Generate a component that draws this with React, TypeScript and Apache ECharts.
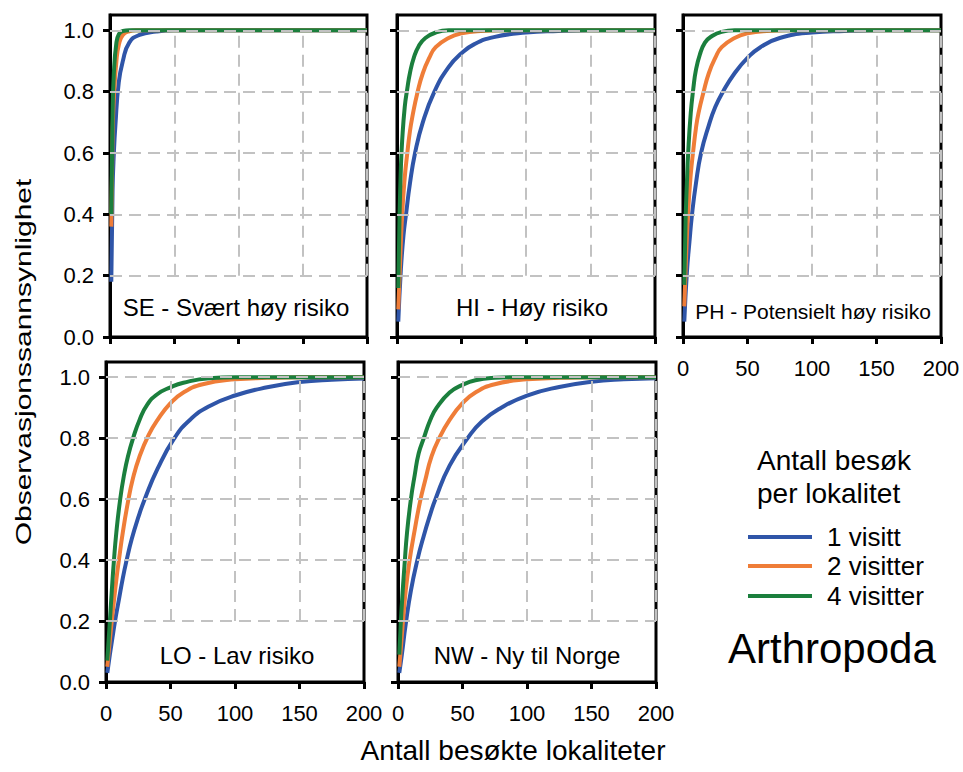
import React, { useEffect, useRef } from 'react';
import * as echarts from 'echarts';

// ---------- data ----------
const X_TICKS = [0, 50, 100, 150, 200];
const Y_TICKS = [0, 0.2, 0.4, 0.6, 0.8, 1.0];
const GRID_X = [50, 100, 150, 200];
const GRID_Y = [0.2, 0.4, 0.6, 0.8, 1.0];
const VISIT_LABELS = ['1 visitt', '2 visitter', '4 visitter'];
const PANEL_LABELS = [
  'SE - Svært høy risiko',
  'HI - Høy risiko',
  'PH - Potensielt høy risiko',
  'LO - Lav risiko',
  'NW - Ny til Norge',
];
const Y_TITLE = 'Observasjonssannsynlighet';
const X_TITLE = 'Antall besøkte lokaliteter';
const LEGEND_TITLE = ['Antall besøk', 'per lokalitet'];
const TAXON = 'Arthropoda';

const SE_1 = [[1, 0.18], [2, 0.48], [3, 0.6], [4.2, 0.69], [6.8, 0.83], [10, 0.9], [15, 0.96], [23, 0.985], [36, 0.996], [50, 1], [200, 1]];
const SE_2 = [[1, 0.36], [2, 0.66], [3, 0.78], [5, 0.9], [7, 0.955], [10, 0.985], [15, 0.997], [20, 1], [200, 1]];
const SE_4 = [[1, 0.4], [2, 0.72], [3, 0.86], [5, 0.96], [7, 0.988], [10, 0.998], [15, 1], [200, 1]];

const HI_1 = [[1, 0.05], [3, 0.22], [5, 0.33], [7, 0.4], [10, 0.5], [14, 0.6], [20, 0.7], [29, 0.8], [40, 0.88], [50, 0.925], [60, 0.955], [75, 0.978], [100, 0.993], [125, 0.998], [150, 1], [200, 1]];
const HI_2 = [[1, 0.09], [2, 0.2], [4, 0.4], [6, 0.52], [8, 0.6], [10, 0.67], [12, 0.72], [16, 0.8], [20, 0.86], [25, 0.91], [30, 0.945], [40, 0.975], [50, 0.99], [65, 0.998], [80, 1], [200, 1]];
const HI_4 = [[1, 0.16], [2, 0.4], [3, 0.55], [4, 0.64], [6, 0.75], [8, 0.81], [10, 0.86], [13, 0.91], [17, 0.95], [22, 0.975], [30, 0.993], [40, 1], [200, 1]];

const PH_1 = [[1, 0.05], [3, 0.21], [5, 0.31], [7, 0.4], [10, 0.5], [14, 0.6], [20, 0.69], [25, 0.75], [31, 0.8], [40, 0.86], [50, 0.91], [60, 0.945], [75, 0.975], [100, 0.993], [125, 0.998], [150, 1], [200, 1]];
const PH_2 = [[1, 0.1], [2, 0.22], [4, 0.41], [6, 0.53], [8, 0.61], [10, 0.68], [12, 0.73], [16, 0.8], [20, 0.86], [25, 0.91], [30, 0.945], [40, 0.975], [50, 0.99], [65, 0.998], [80, 1], [200, 1]];
const PH_4 = [[1, 0.17], [2, 0.38], [3, 0.5], [4, 0.6], [6, 0.73], [8, 0.81], [10, 0.87], [13, 0.92], [17, 0.96], [22, 0.98], [30, 0.995], [40, 1], [200, 1]];

const LO_1 = [[1, 0.03], [3, 0.09], [5, 0.145], [7, 0.2], [10, 0.27], [13, 0.34], [16, 0.4], [20, 0.47], [25, 0.54], [30, 0.6], [40, 0.7], [53, 0.8], [65, 0.86], [80, 0.905], [100, 0.94], [125, 0.967], [150, 0.984], [175, 0.992], [200, 0.996]];
const LO_2 = [[1, 0.05], [2, 0.095], [4, 0.18], [6, 0.26], [8, 0.335], [10, 0.4], [13, 0.49], [17, 0.59], [21, 0.67], [26, 0.74], [33, 0.81], [40, 0.86], [50, 0.915], [60, 0.95], [75, 0.977], [100, 0.993], [125, 0.998], [150, 1], [200, 1]];
const LO_4 = [[1, 0.07], [2, 0.135], [3, 0.2], [4.5, 0.3], [6, 0.39], [8, 0.49], [11, 0.6], [14, 0.68], [17, 0.74], [21, 0.8], [26, 0.86], [32, 0.91], [40, 0.945], [50, 0.967], [60, 0.982], [80, 0.997], [100, 1], [200, 1]];

const NW_1 = [[1, 0.03], [3, 0.09], [6, 0.19], [10, 0.3], [15, 0.4], [20, 0.48], [25, 0.55], [29, 0.6], [40, 0.71], [54, 0.8], [65, 0.855], [80, 0.9], [100, 0.94], [125, 0.968], [150, 0.985], [175, 0.993], [200, 0.997]];
const NW_2 = [[1, 0.05], [2, 0.1], [3.5, 0.18], [6, 0.3], [9, 0.4], [13, 0.5], [17, 0.59], [21, 0.66], [26, 0.74], [32, 0.8], [40, 0.86], [50, 0.915], [60, 0.95], [75, 0.977], [100, 0.993], [125, 0.998], [150, 1], [200, 1]];
const NW_4 = [[1, 0.09], [2, 0.18], [3.5, 0.29], [5, 0.38], [7, 0.49], [10, 0.6], [13, 0.68], [16, 0.75], [20, 0.8], [25, 0.86], [30, 0.9], [40, 0.95], [50, 0.975], [60, 0.99], [75, 0.998], [90, 1], [200, 1]];

const PANEL_DATA = [
  [SE_1, SE_2, SE_4],
  [HI_1, HI_2, HI_4],
  [PH_1, PH_2, PH_4],
  [LO_1, LO_2, LO_4],
  [NW_1, NW_2, NW_4],
];

// ---------- styling / layout ----------
const COLORS = ['#2f55a8', '#ef7d38', '#1b7f3d'];
const FONT = "'Liberation Sans', Arial, Helvetica, sans-serif";

const LAYOUT = [
  { left: 110, top: 15, width: 257, height: 322, xLabels: false, yLabels: true, lx: 236, ly: 307, lfs: 24 },
  { left: 397, top: 15, width: 258, height: 322, xLabels: false, yLabels: false, lx: 532, ly: 307, lfs: 24 },
  { left: 683, top: 15, width: 258, height: 322, xLabels: true, yLabels: false, lx: 813, ly: 311, lfs: 21 },
  { left: 106, top: 362, width: 258, height: 320, xLabels: true, yLabels: true, lx: 237, ly: 655, lfs: 24 },
  { left: 398, top: 362, width: 258, height: 320, xLabels: true, yLabels: false, lx: 527, ly: 655, lfs: 24 },
];

function buildOption() {
  const grid: any[] = [];
  const xAxis: any[] = [];
  const yAxis: any[] = [];
  const series: any[] = [];
  const graphic: any[] = [];

  LAYOUT.forEach((p, i) => {
    grid.push({
      left: p.left,
      top: p.top,
      width: p.width,
      height: p.height,
      show: true,
      borderColor: '#000',
      borderWidth: 3,
      backgroundColor: 'transparent',
      containLabel: false,
    });
    xAxis.push({
      type: 'value',
      gridIndex: i,
      min: X_TICKS[0],
      max: X_TICKS[X_TICKS.length - 1],
      interval: 50,
      axisLine: { show: true, onZero: false, lineStyle: { color: '#000', width: 3 } },
      axisTick: { show: true, inside: false, length: 7, customValues: X_TICKS, lineStyle: { color: '#000', width: 3 } },
      axisLabel: {
        show: p.xLabels,
        customValues: X_TICKS,
        fontSize: 22,
        color: '#000',
        fontFamily: FONT,
        margin: 20,
        showMinLabel: true,
        showMaxLabel: true,
      },
      splitLine: { show: false },
    });
    yAxis.push({
      type: 'value',
      gridIndex: i,
      min: 0,
      max: 1.05,
      interval: 0.2,
      axisLine: { show: true, onZero: false, lineStyle: { color: '#000', width: 3 } },
      axisTick: { show: true, inside: false, length: 7, customValues: Y_TICKS, lineStyle: { color: '#000', width: 3 } },
      axisLabel: {
        show: p.yLabels,
        customValues: Y_TICKS,
        fontSize: 22,
        color: '#000',
        fontFamily: FONT,
        margin: 16,
        formatter: (v: number) => (v > 1.01 ? '' : v.toFixed(1)),
      },
      splitLine: { show: false },
    });
    // dashed grid lines
    series.push({
      type: 'line',
      xAxisIndex: i,
      yAxisIndex: i,
      data: [],
      silent: true,
      z: 1,
      markLine: {
        silent: true,
        animation: false,
        symbol: ['none', 'none'],
        label: { show: false },
        lineStyle: { color: '#c2c2c2', width: 2, type: [12, 7] },
        data: [
          ...GRID_Y.map((y) => [{ coord: [X_TICKS[0], y] }, { coord: [X_TICKS[X_TICKS.length - 1], y] }]),
          ...GRID_X.map((x) => [{ coord: [x, GRID_Y[0]] }, { coord: [x, GRID_Y[GRID_Y.length - 1]] }]),
        ],
      },
    });
    PANEL_DATA[i].forEach((d, k) => {
      series.push({
        type: 'line',
        name: VISIT_LABELS[k],
        xAxisIndex: i,
        yAxisIndex: i,
        data: d,
        showSymbol: false,
        symbol: 'none',
        smooth: 0.5,
        lineStyle: { color: COLORS[k], width: 4, join: 'round' },
        z: 3,
        silent: true,
      });
    });
    graphic.push({
      type: 'text',
      x: p.lx,
      y: p.ly,
      z: 10,
      style: {
        text: PANEL_LABELS[i],
        font: `${p.lfs}px ${FONT}`,
        fill: '#000',
        textAlign: 'center',
        textVerticalAlign: 'middle',
      },
    });
  });

  // axis titles
  graphic.push({
    type: 'text',
    x: 23,
    y: 362,
    rotation: Math.PI / 2,
    scaleX: 1,
    scaleY: 0.75,
    style: {
      text: Y_TITLE,
      font: `30px ${FONT}`,
      fill: '#000',
      textAlign: 'center',
      textVerticalAlign: 'middle',
    },
  });
  graphic.push({
    type: 'text',
    x: 513,
    y: 750,
    style: {
      text: X_TITLE,
      font: `28px ${FONT}`,
      fill: '#000',
      textAlign: 'center',
      textVerticalAlign: 'middle',
    },
  });

  // legend
  LEGEND_TITLE.forEach((t, j) => {
    graphic.push({
      type: 'text',
      x: 757,
      y: 460 + j * 33,
      style: { text: t, font: `28px ${FONT}`, fill: '#000', textAlign: 'left', textVerticalAlign: 'middle' },
    });
  });
  const legendY = [537, 566, 596];
  VISIT_LABELS.forEach((t, k) => {
    graphic.push({
      type: 'line',
      shape: { x1: 748, y1: legendY[k], x2: 812, y2: legendY[k] },
      style: { stroke: COLORS[k], lineWidth: 4 },
    });
    graphic.push({
      type: 'text',
      x: 827,
      y: legendY[k],
      style: { text: t, font: `26px ${FONT}`, fill: '#000', textAlign: 'left', textVerticalAlign: 'middle' },
    });
  });
  graphic.push({
    type: 'text',
    x: 728,
    y: 648,
    style: { text: TAXON, font: `42px ${FONT}`, fill: '#000', textAlign: 'left', textVerticalAlign: 'middle' },
  });

  return {
    animation: false,
    backgroundColor: '#fff',
    grid,
    xAxis,
    yAxis,
    series,
    graphic,
  };
}

export default function App() {
  const ref = useRef<HTMLDivElement>(null);
  useEffect(() => {
    if (!ref.current) return;
    const chart = echarts.init(ref.current, null, { renderer: 'svg' });
    chart.setOption(buildOption() as any);
    return () => {
      chart.dispose();
    };
  }, []);
  return (
    <div
      ref={ref}
      style={{ position: 'absolute', left: 0, top: 0, width: 963, height: 772, background: '#fff' }}
    />
  );
}
